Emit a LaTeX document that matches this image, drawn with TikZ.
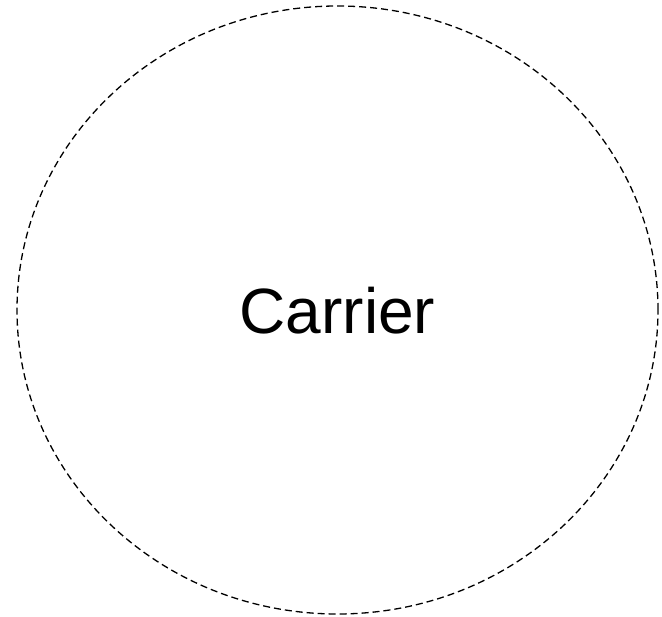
\documentclass[tikz,border=0pt]{standalone}
\usepackage{fontspec}
\setmainfont{Liberation Sans}
\usetikzlibrary{shapes.geometric}
\tikzset{carrierbox/.style={draw=black, line width=1.3pt, dash pattern=on 7pt off 4pt, ellipse, minimum width=641pt, minimum height=608pt, inner sep=0pt}}
\begin{document}
\begin{tikzpicture}[x=1pt,y=-1pt]
\useasboundingbox (0,0) rectangle (662,617);
\node[carrierbox] (carrier) at (337.5,310) {};
\node[font=\fontsize{64}{68}\selectfont, inner sep=0pt, anchor=base] (label) at (337.5,334) {Carrier};
\end{tikzpicture}
\end{document}
